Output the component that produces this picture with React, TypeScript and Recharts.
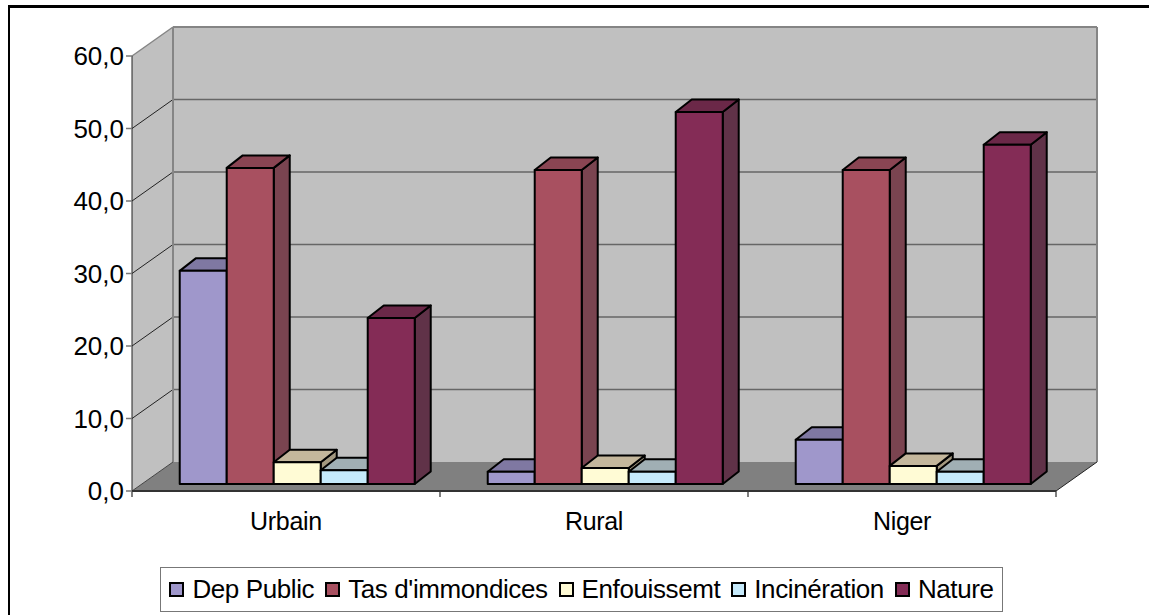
import React from 'react';
import { BarChart, Bar, XAxis, YAxis, Legend, usePlotArea } from 'recharts';

const categories = ['Urbain', 'Rural', 'Niger'];
const depPublic = [29.4, 1.7, 6.1];
const tasImmondices = [43.6, 43.3, 43.3];
const enfouissement = [3.0, 2.2, 2.5];
const incineration = [1.9, 1.7, 1.7];
const nature = [22.9, 51.3, 46.8];
const yTicks = [0, 10, 20, 30, 40, 50, 60];
const yMax = 60;

const seriesNames = ['Dep Public', "Tas d'immondices", 'Enfouissemt', 'Incinération', 'Nature'];
const seriesValues = [depPublic, tasImmondices, enfouissement, incineration, nature];
const frontColors = ['#9F97CB', '#A85060', '#FFFBD5', '#C6EAFB', '#842C56'];
const topColors = ['#7F78A2', '#8A4553', '#C4B79C', '#A0AFB4', '#6B2848'];
const sideColors = ['#6F698E', '#7A4450', '#A39880', '#8A9AA0', '#603248'];

const rows = categories.map((category, i) => {
  const row: Record<string, string | number> = { category };
  seriesNames.forEach((name, s) => {
    row[name] = seriesValues[s][i];
  });
  return row;
});

const WALL_DX = 41;
const WALL_DY = 29;
const BAR_DX = 12;
const BAR_DY = 7;
const DEPTH_X = 16;
const DEPTH_Y = 12.5;
const FONT = '"Liberation Sans", Arial, sans-serif';

function Walls() {
  const plot = usePlotArea();
  if (!plot) return null;
  const { x, y, width, height } = plot;
  const bottom = y + height;
  const right = x + width;
  const yOf = (t: number) => bottom - (t / yMax) * height;
  return (
    <g>
      <polygon
        points={`${x},${y} ${x + WALL_DX},${y - WALL_DY} ${x + WALL_DX},${bottom - WALL_DY} ${x},${bottom}`}
        fill="#C0C0C0"
      />
      <rect x={x + WALL_DX} y={y - WALL_DY} width={width} height={height} fill="#C0C0C0" />
      <polygon
        points={`${x},${bottom} ${x + WALL_DX},${bottom - WALL_DY} ${right + WALL_DX},${bottom - WALL_DY} ${right},${bottom}`}
        fill="#808080"
      />
      {yTicks.slice(1, -1).map((t) => (
        <g key={t}>
          <line x1={x} y1={yOf(t)} x2={x + WALL_DX} y2={yOf(t) - WALL_DY} stroke="#222" strokeWidth={1} />
          <line x1={x + WALL_DX} y1={yOf(t) - WALL_DY} x2={right + WALL_DX} y2={yOf(t) - WALL_DY} stroke="#666" strokeWidth={1.5} />
        </g>
      ))}
      <line x1={x} y1={y} x2={x + WALL_DX} y2={y - WALL_DY} stroke="#858585" strokeWidth={1.5} />
      <line x1={x + WALL_DX} y1={y - WALL_DY} x2={right + WALL_DX} y2={y - WALL_DY} stroke="#858585" strokeWidth={2} />
      <line x1={x + WALL_DX} y1={y - WALL_DY} x2={x + WALL_DX} y2={bottom - WALL_DY} stroke="#858585" strokeWidth={2} />
      <line x1={right + WALL_DX} y1={y - WALL_DY} x2={right + WALL_DX} y2={bottom - WALL_DY} stroke="#858585" strokeWidth={2} />
      <line x1={x} y1={bottom} x2={x + WALL_DX} y2={bottom - WALL_DY} stroke="#444" strokeWidth={1} />
      <line x1={right} y1={bottom} x2={right + WALL_DX} y2={bottom - WALL_DY} stroke="#222" strokeWidth={1} />
      {[...categories, ''].map((c, i) => {
        const tx = x + (i * width) / categories.length;
        return <line key={i} x1={tx} y1={bottom} x2={tx} y2={bottom + 6} stroke="#555" strokeWidth={1.5} />;
      })}
    </g>
  );
}

function make3DBar(s: number) {
  return function Bar3D(props: any) {
    const w = props.width;
    const h = props.height;
    const x = props.x + BAR_DX;
    const y = props.y - BAR_DY;
    const common = { stroke: '#000', strokeWidth: 2, strokeLinejoin: 'round' as const };
    return (
      <g>
        <polygon
          points={`${x + w},${y} ${x + w + DEPTH_X},${y - DEPTH_Y} ${x + w + DEPTH_X},${y + h - DEPTH_Y} ${x + w},${y + h}`}
          fill={sideColors[s]}
          {...common}
        />
        <polygon
          points={`${x},${y} ${x + DEPTH_X},${y - DEPTH_Y} ${x + w + DEPTH_X},${y - DEPTH_Y} ${x + w},${y}`}
          fill={topColors[s]}
          {...common}
        />
        <rect x={x} y={y} width={w} height={h} fill={frontColors[s]} {...common} />
      </g>
    );
  };
}

function LegendBox() {
  return (
    <div
      style={{
        display: 'flex',
        alignItems: 'center',
        justifyContent: 'center',
        boxSizing: 'border-box',
        width: 843,
        height: 45,
        border: '1.5px solid #777',
        background: '#fff',
        fontFamily: FONT,
        fontSize: 26,
        letterSpacing: -0.4,
        color: '#000',
        whiteSpace: 'nowrap',
      }}
    >
      {seriesNames.map((name, s) => (
        <span key={name} style={{ display: 'flex', alignItems: 'center', marginRight: s < 4 ? 11 : 0 }}>
          <span
            style={{
              display: 'inline-block',
              boxSizing: 'border-box',
              width: 15,
              height: 15,
              border: '2px solid #000',
              background: frontColors[s],
              marginRight: 8,
            }}
          />
          {name}
        </span>
      ))}
    </div>
  );
}

export default function App() {
  return (
    <div style={{ position: 'absolute', left: 0, top: 0, width: 1149, height: 615, background: '#fff', overflow: 'hidden' }}>
      <div style={{ position: 'absolute', left: 8, top: 5, right: 0, bottom: 0, borderTop: '3px solid #000', borderLeft: '2px solid #000' }} />
      <div style={{ position: 'absolute', left: 0, top: 0 }}>
        <BarChart
          width={1149}
          height={615}
          data={rows}
          margin={{ top: 56, right: 93, bottom: 49, left: 0 }}
          barCategoryGap="11.6%"
          barGap={0}
        >
          <Walls />
          <XAxis
            dataKey="category"
            tick={{ fill: '#000', fontSize: 25, fontFamily: FONT, letterSpacing: -0.3 }}
            tickLine={false}
            axisLine={{ stroke: '#333', strokeWidth: 2 }}
            tickSize={7}
            tickMargin={14}
            interval={0}
          />
          <YAxis
            domain={[0, yMax]}
            ticks={yTicks}
            width={132}
            tick={{ fill: '#000', fontSize: 26, fontFamily: FONT }}
            tickFormatter={(v: number) => v.toFixed(1).replace('.', ',')}
            tickLine={{ stroke: '#777', strokeWidth: 1.5 }}
            axisLine={{ stroke: '#222', strokeWidth: 1 }}
            tickSize={6}
            tickMargin={2}
          />
          {seriesNames.map((name, s) => (
            <Bar key={name} dataKey={name} fill={frontColors[s]} shape={make3DBar(s)} isAnimationActive={false} />
          ))}
          <Legend
            content={<LegendBox />}
            wrapperStyle={{ position: 'absolute', left: 160, top: 567, width: 843, height: 45, bottom: 'auto' }}
          />
        </BarChart>
      </div>
    </div>
  );
}
